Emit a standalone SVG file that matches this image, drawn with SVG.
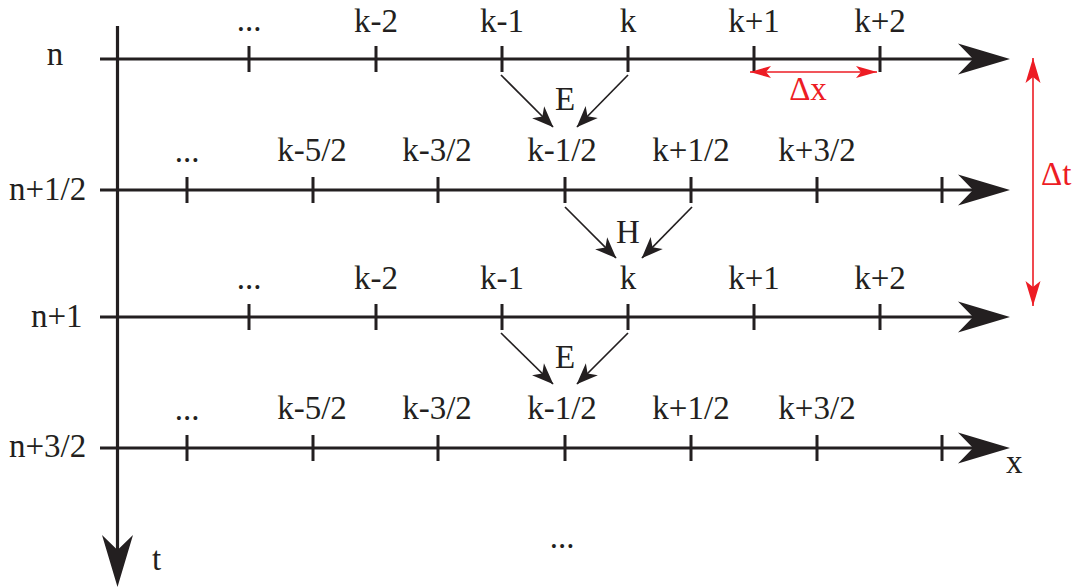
<svg xmlns="http://www.w3.org/2000/svg" width="1081" height="587" viewBox="0 0 1081 587">
<style>
text{font-family:"Liberation Serif","Times New Roman",serif;font-size:33px;fill:#231f20}
.c{text-anchor:middle}
.red{fill:#ed1c24}
.axis{stroke:#231f20;stroke-width:3.2;fill:none}
.tick{stroke:#231f20;stroke-width:3;fill:none}
.conn{stroke:#231f20;stroke-width:1.7;fill:none;marker-end:url(#ah)}
.dim{stroke:#ed1c24;stroke-width:1.6;fill:none}
</style>
<defs>
<marker id="big" markerUnits="userSpaceOnUse" viewBox="-16 -16 54 32" markerWidth="54" markerHeight="32" refX="0" refY="0" orient="auto" overflow="visible">
<path d="M37,0 L-15,-15.5 L0,0 L-15,15.5 Z" fill="#231f20"/>
</marker>
<marker id="ah" markerUnits="userSpaceOnUse" viewBox="-23 -10 25 20" markerWidth="25" markerHeight="20" refX="0" refY="0" orient="auto" overflow="visible">
<path d="M0.5,0 L-21,-8.5 L-15,0 L-21,8.5 Z" fill="#231f20"/>
</marker>
<marker id="rx" markerUnits="userSpaceOnUse" viewBox="-22 -7 24 14" markerWidth="24" markerHeight="14" refX="0" refY="0" orient="auto-start-reverse" overflow="visible">
<path d="M0,0 L-21,-6 L-16,0 L-21,6 Z" fill="#ed1c24"/>
</marker>
<marker id="rt" markerUnits="userSpaceOnUse" viewBox="-27 -9 29 18" markerWidth="29" markerHeight="18" refX="0" refY="0" orient="auto-start-reverse" overflow="visible">
<path d="M0,0 L-25,-7.5 L-19,0 L-25,7.5 Z" fill="#ed1c24"/>
</marker>
</defs>

<g id="axes">
<line class="axis" x1="117.5" y1="26" x2="117.5" y2="550" marker-end="url(#big)"/>
<line class="axis" x1="100" y1="59" x2="973" y2="59" marker-end="url(#big)"/>
<line class="axis" x1="100" y1="190" x2="973" y2="190" marker-end="url(#big)"/>
<line class="axis" x1="100" y1="317" x2="973" y2="317" marker-end="url(#big)"/>
<line class="axis" x1="100" y1="448" x2="973" y2="448" marker-end="url(#big)"/>
<text x="152" y="570">t</text>
<text x="1006" y="473">x</text>
</g>

<g id="row-n">
<text x="55" y="65" class="c">n</text>
<path class="tick" d="M249,46V72M376,46V72M502,46V72M628,46V72M754,46V72M880,46V72"/>
<text x="249" y="31" class="c">...</text>
<text x="376" y="32" class="c">k-2</text>
<text x="502" y="32" class="c">k-1</text>
<text x="628" y="32" class="c">k</text>
<text x="754" y="32" class="c">k+1</text>
<text x="880" y="32" class="c">k+2</text>
</g>

<g id="row-n-half">
<text x="9" y="200">n+1/2</text>
<path class="tick" d="M187,177V203M313,177V203M438,177V203M565,177V203M691,177V203M817,177V203M942,177V203"/>
<text x="187" y="162" class="c">...</text>
<text x="312" y="161" class="c">k-5/2</text>
<text x="437" y="161" class="c">k-3/2</text>
<text x="562" y="161" class="c">k-1/2</text>
<text x="691" y="161" class="c">k+1/2</text>
<text x="817" y="161" class="c">k+3/2</text>
</g>

<g id="row-n1">
<text x="31" y="327">n+1</text>
<path class="tick" d="M249,304V330M376,304V330M502,304V330M628,304V330M754,304V330M880,304V330"/>
<text x="249" y="289" class="c">...</text>
<text x="376" y="289" class="c">k-2</text>
<text x="502" y="289" class="c">k-1</text>
<text x="628" y="289" class="c">k</text>
<text x="754" y="289" class="c">k+1</text>
<text x="880" y="289" class="c">k+2</text>
</g>

<g id="row-n3half">
<text x="9" y="457">n+3/2</text>
<path class="tick" d="M187,435V461M313,435V461M438,435V461M565,435V461M691,435V461M817,435V461M942,435V461"/>
<text x="187" y="420" class="c">...</text>
<text x="312" y="419" class="c">k-5/2</text>
<text x="437" y="419" class="c">k-3/2</text>
<text x="562" y="419" class="c">k-1/2</text>
<text x="691" y="419" class="c">k+1/2</text>
<text x="817" y="419" class="c">k+3/2</text>
<text x="562" y="548" class="c">...</text>
</g>

<g id="connectors">
<line class="conn" x1="501" y1="75" x2="553" y2="127"/>
<line class="conn" x1="628" y1="75" x2="577" y2="127"/>
<line class="conn" x1="565" y1="207" x2="616" y2="258"/>
<line class="conn" x1="692" y1="207" x2="642" y2="258"/>
<line class="conn" x1="501" y1="333" x2="553" y2="384"/>
<line class="conn" x1="628" y1="333" x2="577" y2="384"/>
<text x="565" y="110" class="c">E</text>
<text x="628" y="243" class="c">H</text>
<text x="565" y="368" class="c">E</text>
</g>

<g id="dimensions">
<line class="dim" x1="750" y1="72" x2="877" y2="72" marker-start="url(#rx)" marker-end="url(#rx)"/>
<text x="808" y="100" class="c red">Δx</text>
<line class="dim" x1="1033" y1="58" x2="1033" y2="306" marker-start="url(#rt)" marker-end="url(#rt)"/>
<text x="1041" y="185" class="red">Δt</text>
</g>
</svg>
